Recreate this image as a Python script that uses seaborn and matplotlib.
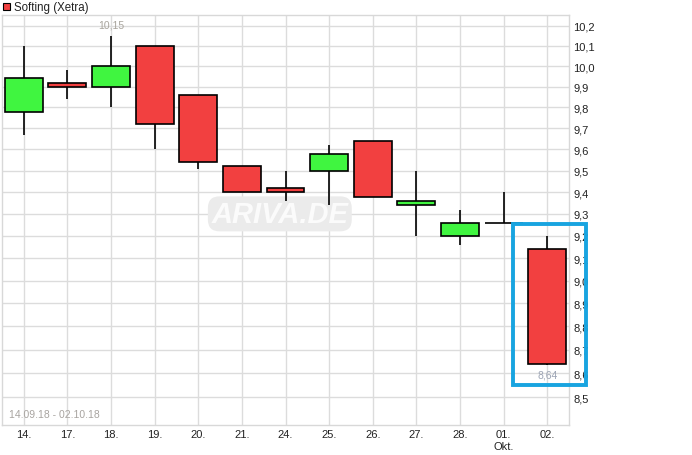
import matplotlib
matplotlib.use("Agg")
import matplotlib.pyplot as plt
import matplotlib.ticker as mticker
from matplotlib.patches import Rectangle
import seaborn as sns
import pandas as pd

dates = ["14.", "17.", "18.", "19.", "20.", "21.", "24.", "25.", "26.", "27.", "28.", "01.\nOkt.", "02."]
opens = [9.78, 9.92, 9.90, 10.10, 9.86, 9.52, 9.42, 9.50, 9.64, 9.34, 9.20, 9.26, 9.14]
closes = [9.94, 9.90, 10.00, 9.72, 9.54, 9.40, 9.40, 9.58, 9.38, 9.36, 9.26, 9.26, 8.64]
highs = [10.10, 9.98, 10.15, 10.10, 9.86, 9.52, 9.50, 9.62, 9.64, 9.50, 9.32, 9.40, 9.20]
lows = [9.67, 9.84, 9.80, 9.60, 9.51, 9.40, 9.36, 9.34, 9.38, 9.20, 9.16, 9.26, 8.635]
yticks = [8.5, 8.6, 8.7, 8.8, 8.9, 9.0, 9.1, 9.2, 9.3, 9.4, 9.5, 9.6, 9.7, 9.8, 9.9, 10.0, 10.1, 10.2]

df = pd.DataFrame({"date": dates, "open": opens, "close": closes, "high": highs, "low": lows})
df["x"] = range(len(df))

sns.set_theme(style="white")
plt.rcParams["font.family"] = ["Liberation Sans", "DejaVu Sans"]

W, H = 692, 456
fig = plt.figure(figsize=(W / 100, H / 100), dpi=100)
ax = fig.add_axes([2 / W, 30 / H, 567 / W, 410 / H])

ax.set_yscale("log")
ax.set_xlim(-0.5, len(df) - 0.5)
ax.set_ylim(8.384, 10.255)

GREEN = "#40f540"
RED = "#f24040"
bw = 0.87

# wicks
ax.vlines(df["x"], df["low"], df["high"], color="black", lw=1.2, zorder=3)
for _, r in df.iterrows():
    lo, hi = min(r["open"], r["close"]), max(r["open"], r["close"])
    col = GREEN if r["close"] > r["open"] else RED
    if hi - lo < 1e-9:
        ax.hlines(lo, r["x"] - bw / 2, r["x"] + bw / 2, color="black", lw=1.2, zorder=4)
    else:
        ax.bar(r["x"], hi - lo, bottom=lo, width=bw, color=col, edgecolor="black",
               linewidth=1.2, zorder=4)

# grid
ax.set_xticks(df["x"])
ax.set_xticklabels(df["date"], fontsize=8, color="#222222")
ax.yaxis.tick_right()
ax.set_yticks(yticks)
ax.yaxis.set_minor_locator(mticker.NullLocator())
ax.set_yticklabels([f"{v:.1f}".replace(".", ",") for v in yticks], fontsize=8, color="#222222")
ax.grid(True, color="#dcdcdc", lw=1.0)
ax.tick_params(axis="both", length=0, pad=3)
for s in ax.spines.values():
    s.set_color("#d8d8d8")
    s.set_linewidth(1.0)

# annotations
ax.text(2, 10.15 * 1.003, "10,15", ha="center", va="bottom", fontsize=7.5, color="#a8a49c", zorder=5)
ax.text(12, 8.635 * 0.998, "8,64", ha="center", va="top", fontsize=7.5, color="#9ca4b4", zorder=5)
ax.text(0.012, 0.015, "14.09.18 - 02.10.18", transform=ax.transAxes, ha="left", va="bottom",
        fontsize=7.5, color="#a8a4a0")

# highlight box
ax.add_patch(Rectangle((11.21, 8.55), 12.9 - 11.21, 9.254 - 8.55, fill=False,
                       edgecolor="#18a4e0", lw=2.8, clip_on=False, zorder=6))

# watermark
ax.text(0.49, 0.515, "ARIVA.DE", transform=ax.transAxes, ha="center", va="center",
        fontsize=21, fontstyle="italic", fontweight="bold", color="#fbfbfb", zorder=1,
        bbox=dict(boxstyle="round,pad=0.12,rounding_size=0.4", fc="#ebebeb", ec="none"))

# legend
fig.add_artist(Rectangle((3 / W, 1 - 11 / H), 7 / W, 7 / H, transform=fig.transFigure,
                         facecolor=RED, edgecolor="black", lw=0.8))
fig.text(14 / W, 1 - 7.5 / H, "Softing (Xetra)", ha="left", va="center", fontsize=8.3, color="#222222")

fig.savefig("out.png", dpi=100)
